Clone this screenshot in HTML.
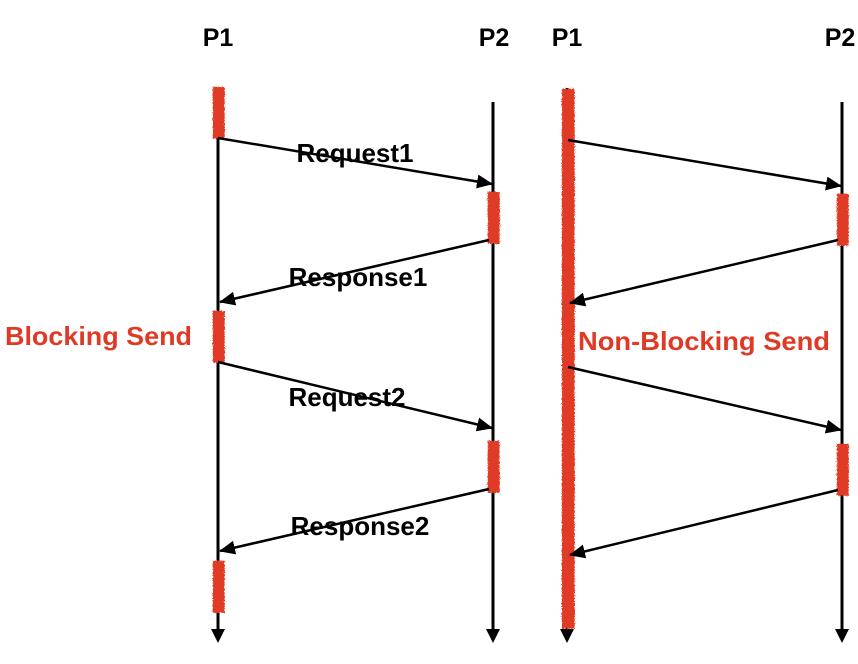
<!DOCTYPE html>
<html><head><meta charset="utf-8"><style>
html,body{margin:0;padding:0;background:#fff;}
svg{display:block}
text{font-family:"Liberation Sans",sans-serif;font-weight:bold;}
</style></head><body>
<svg width="858" height="664" viewBox="0 0 858 664" xmlns="http://www.w3.org/2000/svg">
<defs>
<marker id="a" markerWidth="16" markerHeight="14" refX="15" refY="7" orient="auto" markerUnits="userSpaceOnUse" viewBox="0 0 16 14">
<path d="M0,0 L16,7 L0,14 z" fill="#000"/></marker>
<filter id="r"><feTurbulence baseFrequency="0.9" numOctaves="2" result="n"/><feDisplacementMap in="SourceGraphic" in2="n" scale="3"/></filter>
</defs>
<g fill="#000" font-size="25">
<text x="218" y="46" text-anchor="middle">P1</text>
<text x="494" y="46" text-anchor="middle">P2</text>
<text x="567" y="46" text-anchor="middle">P1</text>
<text x="840" y="46" text-anchor="middle">P2</text>
</g>
<g stroke="#000" stroke-width="3">
<line x1="218" y1="88" x2="218" y2="632"/>
<line x1="493" y1="102" x2="493" y2="632"/>
<line x1="567" y1="88" x2="567" y2="632"/>
<line x1="842" y1="102" x2="842" y2="632"/>
</g>
<g fill="#000">
<path d="M211,629 L225,629 L218,643 z"/>
<path d="M486,629 L500,629 L493,643 z"/>
<path d="M560,629 L574,629 L567,643 z"/>
<path d="M835,629 L849,629 L842,643 z"/>
</g>
<g fill="#e03a26" filter="url(#r)">
<rect x="212" y="86" width="12" height="52"/>
<rect x="487" y="191" width="12" height="52"/>
<rect x="212" y="310" width="12" height="52"/>
<rect x="487" y="440" width="12" height="52"/>
<rect x="212" y="560" width="12" height="52"/>
<rect x="561" y="88" width="13" height="540"/>
<rect x="836" y="193" width="12" height="52"/>
<rect x="836" y="443" width="12" height="52"/>
</g>
<g stroke="#000" stroke-width="2.5" marker-end="url(#a)">
<line x1="218" y1="138" x2="492" y2="184"/>
<line x1="489" y1="240" x2="220" y2="302"/>
<line x1="218" y1="362" x2="492" y2="428"/>
<line x1="489" y1="489" x2="220" y2="551"/>
<line x1="568" y1="140" x2="841" y2="186"/>
<line x1="838" y1="240" x2="570" y2="303"/>
<line x1="568" y1="367" x2="841" y2="430"/>
<line x1="838" y1="490" x2="570" y2="555"/>
</g>
<g fill="#000" font-size="26" text-anchor="middle">
<text x="355" y="162">Request1</text>
<text x="358" y="286">Response1</text>
<text x="347" y="406">Request2</text>
<text x="360" y="535">Response2</text>
</g>
<g fill="#e03a26" font-size="26">
<text x="5" y="345" textLength="187" lengthAdjust="spacingAndGlyphs">Blocking Send</text>
<text x="578" y="350" textLength="252" lengthAdjust="spacingAndGlyphs">Non-Blocking Send</text>
</g>
</svg>
</body></html>
